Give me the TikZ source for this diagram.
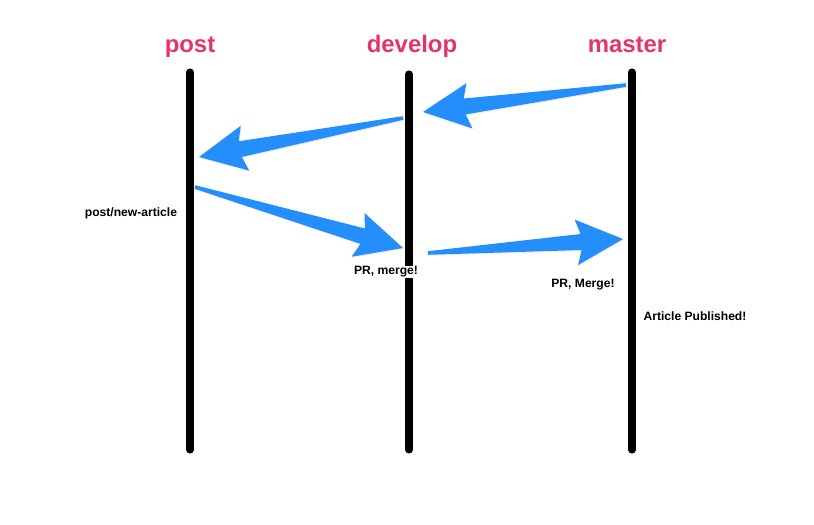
\documentclass[tikz,border=0pt]{standalone}
\usepackage{fontspec}
\setmainfont{Liberation Sans}
\usetikzlibrary{calc}
\usetikzlibrary{shadows}
\definecolor{branchpink}{RGB}{228,52,108}
\definecolor{arrowblue}{RGB}{36,142,250}
\tikzset{branch/.style={line width=5pt,line cap=round},
title/.style={text=branchpink,font=\fontsize{17}{20}\selectfont\bfseries,anchor=base},
remark/.style={font=\fontsize{8.6}{10}\selectfont\bfseries,fill=white,inner sep=0.4pt},
fat/.style={fill=arrowblue,drop shadow={opacity=0.15,shadow xshift=0.6pt,shadow yshift=-0.8pt}}}
% tapered arrow from #1 (tail) to #2 (tip)
\newcommand{\fatarrow}[2]{%
\fill[fat] ($(#1)!0.045cm!90:(#2)$) -- ($(#2)!1.05cm!(#1)!0.2cm!-90:(#1)$) -- ($(#2)!1.17cm!(#1)!0.57cm!-90:(#1)$) -- (#2) -- ($(#2)!1.17cm!(#1)!0.57cm!90:(#1)$) -- ($(#2)!1.05cm!(#1)!0.2cm!90:(#1)$) -- ($(#1)!0.045cm!-90:(#2)$) -- cycle;}

\begin{document}
\begin{tikzpicture}[x=0.025cm,y=-0.025cm]
\useasboundingbox (0,0) rectangle (814,525);

\foreach \n / \x / \t in {post/190/72, develop/409/74, master/632/72} {
\coordinate (\n top) at (\x,\t);
\coordinate (\n bottom) at (\x,450);
\draw [branch] (\n top) -- (\n bottom);
}

\node (tpost) at (190,53) [title] {post};
\node (tdevelop) at (412,53) [title] {develop};
\node (tmaster) at (627,53) [title] {master};

\coordinate (a1 tail) at (626,85);
\coordinate (a1 tip) at (423,112);
\coordinate (a2 tail) at (403,118);
\coordinate (a2 tip) at (199,157);
\coordinate (a3 tail) at (195,187);
\coordinate (a3 tip) at (403,248);
\coordinate (a4 tail) at (428,253);
\coordinate (a4 tip) at (623,239);

\foreach \a in {a1,a2,a3,a4} {
\fatarrow{\a\space tail}{\a\space tip}
}

\node (newarticle) at (131,213) [remark] {post/new-article};
\node (merge1) at (386,272) [remark] {PR, merge!};
\node (merge2) at (583,285) [remark] {PR, Merge!};
\node (published) at (695,316) [remark] {Article Published!};

\end{tikzpicture}
\end{document}
